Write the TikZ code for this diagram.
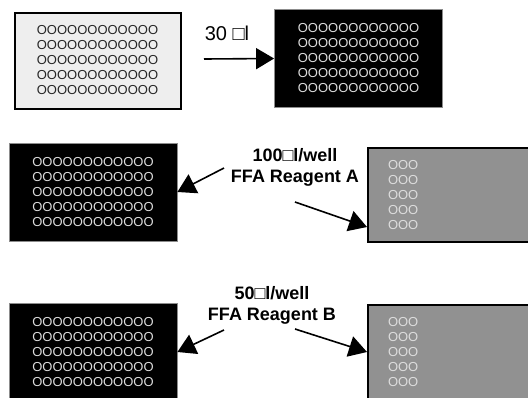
\documentclass[tikz,border=0pt]{standalone}
\usepackage{fontspec}
\setmainfont{Liberation Sans}
\usetikzlibrary{arrows.meta}
\definecolor{ink}       {HTML}{000000}
\definecolor{lightplate}{HTML}{EEEEEE}
\definecolor{greyplate} {HTML}{919191}
\definecolor{well}      {HTML}{DDDDDD}
\definecolor{rim}       {HTML}{8C8C8C}
\newcommand{\wellsfull}{OOOOOOOOOOOO\\OOOOOOOOOOOO\\OOOOOOOOOOOO\\OOOOOOOOOOOO\\OOOOOOOOOOOO}
\newcommand{\wellsfew}{OOO\\OOO\\OOO\\OOO\\OOO}
\tikzset{
  >={Triangle[length=18pt,width=21pt]},
  % --- plates
  plate/.style = {rectangle, inner sep=0pt, align=left,
                  font=\fontsize{13}{15}\selectfont},
  light/.style = {plate, draw=ink, line width=2pt, fill=lightplate, text=ink!85,
                  minimum width=166pt, minimum height=96pt},
  dark/.style  = {plate, draw=rim, line width=0.8pt, fill=ink, text=well,
                  minimum width=168pt, minimum height=98pt},
  grey/.style  = {plate, draw=ink, line width=2pt, fill=greyplate, text=well,
                  minimum height=94pt, text width=143pt, inner xsep=20pt},
  % --- labels
  vol/.style   = {font=\fontsize{20}{24}\selectfont},
  reag/.style  = {font=\bfseries\fontsize{18}{21}\selectfont, align=center},
  % --- edges
  e/.style     = {->, line width=1.6pt, draw=ink},
}
\begin{document}
\begin{tikzpicture}[x=1pt,y=-1pt]
  \useasboundingbox (0,0) rectangle (528,397);
  \clip (0,0) rectangle (528,397);
  % step 1
  \node[light] (p1) at (97.5,60.5) {\wellsfull};
  \node[dark]  (p2) at (358.5,58.5) {\wellsfull};
  \node[vol]   (v1) at (227,33) {30 □l};
  \coordinate (s1) at (204,59);
  \draw[e] (s1) -- (p2.west);
  % step 2
  \node[dark]  (p3) at (93,192) {\wellsfull};
  \node[grey,anchor=west] (p4) at (367,195) {\wellsfew};
  \node[reag]  (r1) at (295,167.5) {100□l/well\\FFA Reagent A};
  \coordinate (s2) at (224,168);
  \coordinate (s3) at (295,202);
  \draw[e] (s2) -- (p3.east);
  \draw[e] (s3) -- ([yshift=-32pt]p4.west);
  % step 3
  \node[dark]  (p5) at (93,352) {\wellsfull};
  \node[grey,anchor=west] (p6) at (367,352) {\wellsfew};
  \node[reag]  (r2) at (272,305) {50□l/well\\FFA Reagent B};
  \coordinate (s4) at (224,330);
  \coordinate (s5) at (295,329);
  \draw[e] (s4) -- (p5.east);
  \draw[e] (s5) -- (p6.west);
\end{tikzpicture}
\end{document}
